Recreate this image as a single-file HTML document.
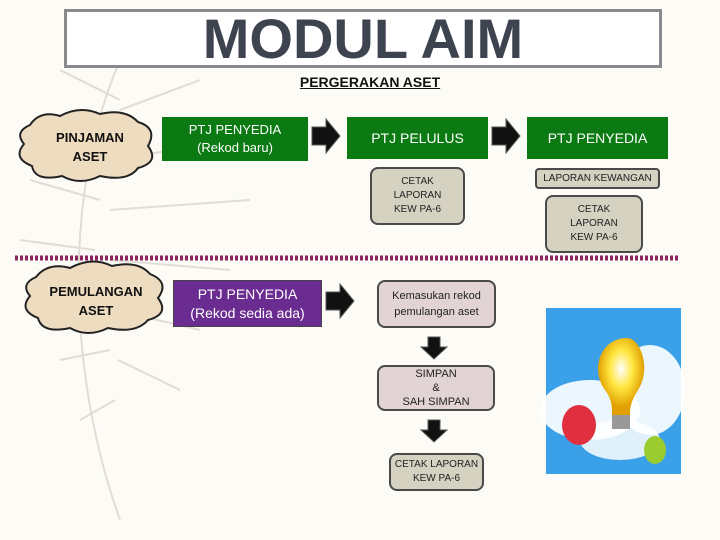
<!DOCTYPE html>
<html><head><style>
body{margin:0;width:720px;height:540px;background:#fcfbf6;position:relative;overflow:hidden;font-family:"Liberation Sans",sans-serif}
.a{position:absolute;box-sizing:border-box;display:flex;align-items:center;justify-content:center;text-align:center}
.g{background:#0b7a12;color:#fff;font-size:14px;line-height:18px}
.r{border:2px solid #4a4a4a;border-radius:8px;color:#222;font-size:10px;line-height:14px}
</style></head><body>
<svg width="720" height="540" style="position:absolute;left:0;top:0">
<g stroke="#d8d6cc" stroke-width="2" fill="none" opacity=".8">
<path d="M120 60 C60 200 70 380 120 520"/>
<path d="M120 100 L60 70 M110 150 L40 120 M100 200 L30 180 M95 250 L20 240 M100 300 L40 300 M110 350 L60 360 M115 400 L80 420 M120 110 L200 80 M115 160 L230 140 M110 210 L250 200 M110 260 L230 270 M115 310 L200 330 M118 360 L180 390"/>
</g>
<path d="M30 125 Q40 110 60 116 Q80 105 100 114 Q125 108 138 122 Q158 128 148 146 Q160 162 138 168 Q128 182 100 176 Q80 186 62 176 Q35 182 32 166 Q12 158 24 144 Q14 132 30 125Z" fill="#eddcc0" stroke="#222" stroke-width="2"/>
<path d="M36 277 Q48 262 70 268 Q92 256 112 266 Q138 260 150 274 Q170 282 158 298 Q170 314 148 320 Q136 334 108 328 Q88 338 70 328 Q42 334 38 318 Q18 310 30 296 Q20 284 36 277Z" fill="#eddcc0" stroke="#222" stroke-width="2"/>
<g fill="#111" stroke="#555" stroke-width="1">
<path d="M312 127 H326 V119 L340 136 L326 153 V145 H312Z"/>
<path d="M492 127 H506 V119 L520 136 L506 153 V145 H492Z"/>
<path d="M326 292 H340 V284 L354 301 L340 318 V310 H326Z"/>
<path d="M428 337 H440 V347 H447 L434 359 L421 347 H428Z"/>
<path d="M428 420 H440 V430 H447 L434 442 L421 430 H428Z"/>
</g>
<line x1="15" y1="258" x2="678" y2="258" stroke="#8a2560" stroke-width="5" stroke-dasharray="3 2"/>
<defs><radialGradient id="b" cx=".5" cy=".4" r=".5"><stop offset="0" stop-color="#fff"/><stop offset=".5" stop-color="#ffe640"/><stop offset="1" stop-color="#e0a000"/></radialGradient></defs>
<rect x="546" y="308" width="135" height="166" fill="#3aa0e8"/>
<ellipse cx="590" cy="410" rx="50" ry="30" fill="#fff" opacity=".9"/>
<ellipse cx="650" cy="390" rx="35" ry="45" fill="#fff" opacity=".9"/>
<ellipse cx="620" cy="440" rx="40" ry="20" fill="#fff" opacity=".85"/>
<path d="M627 338 C600 338 590 370 605 390 C612 400 612 405 612 415 H630 C630 405 632 400 638 390 C652 368 640 338 627 338Z" fill="url(#b)"/>
<rect x="612" y="415" width="18" height="14" fill="#999"/>
<ellipse cx="579" cy="425" rx="17" ry="20" fill="#e03040"/>
<ellipse cx="655" cy="450" rx="11" ry="14" fill="#9acc30"/>
</svg>
<div class="a" style="left:64px;top:9px;width:598px;height:59px;border:3px solid #8a8a8e;background:#fff;font-size:56px;font-weight:bold;color:#3e4350;letter-spacing:0px">MODUL AIM</div>
<div class="a" style="left:270px;top:72px;width:200px;height:20px;font-size:14px;font-weight:bold;text-decoration:underline;color:#111">PERGERAKAN ASET</div>
<div class="a" style="left:30px;top:125px;width:120px;height:44px;font-size:13px;font-weight:bold;line-height:19px;color:#111">PINJAMAN<br>ASET</div>
<div class="a" style="left:36px;top:276px;width:120px;height:50px;font-size:13px;font-weight:bold;line-height:19px;color:#111">PEMULANGAN<br>ASET</div>
<div class="a g" style="left:162px;top:117px;width:146px;height:44px;font-size:13px">PTJ PENYEDIA<br>(Rekod baru)</div>
<div class="a g" style="left:347px;top:117px;width:141px;height:42px">PTJ PELULUS</div>
<div class="a g" style="left:527px;top:117px;width:141px;height:42px">PTJ PENYEDIA</div>
<div class="a r" style="left:370px;top:167px;width:95px;height:58px;background:#d5d2c2">CETAK<br>LAPORAN<br>KEW PA-6</div>
<div class="a r" style="left:535px;top:168px;width:125px;height:21px;background:#d5d2c2;border-radius:4px">LAPORAN KEWANGAN</div>
<div class="a r" style="left:545px;top:195px;width:98px;height:58px;background:#d5d2c2">CETAK<br>LAPORAN<br>KEW PA-6</div>
<div class="a" style="left:173px;top:280px;width:149px;height:47px;background:#6b2c91;color:#fff;font-size:14px;line-height:19px;border:1px solid #444">PTJ PENYEDIA<br>(Rekod sedia ada)</div>
<div class="a r" style="left:377px;top:280px;width:119px;height:48px;background:#e2d3d5;font-size:11px;line-height:16px">Kemasukan rekod<br>pemulangan aset</div>
<div class="a r" style="left:377px;top:365px;width:118px;height:46px;background:#e2d3d5;font-size:11px">SIMPAN<br>&amp;<br>SAH SIMPAN</div>
<div class="a r" style="left:389px;top:453px;width:95px;height:38px;background:#d5d2c2">CETAK LAPORAN<br>KEW PA-6</div>
</body></html>
